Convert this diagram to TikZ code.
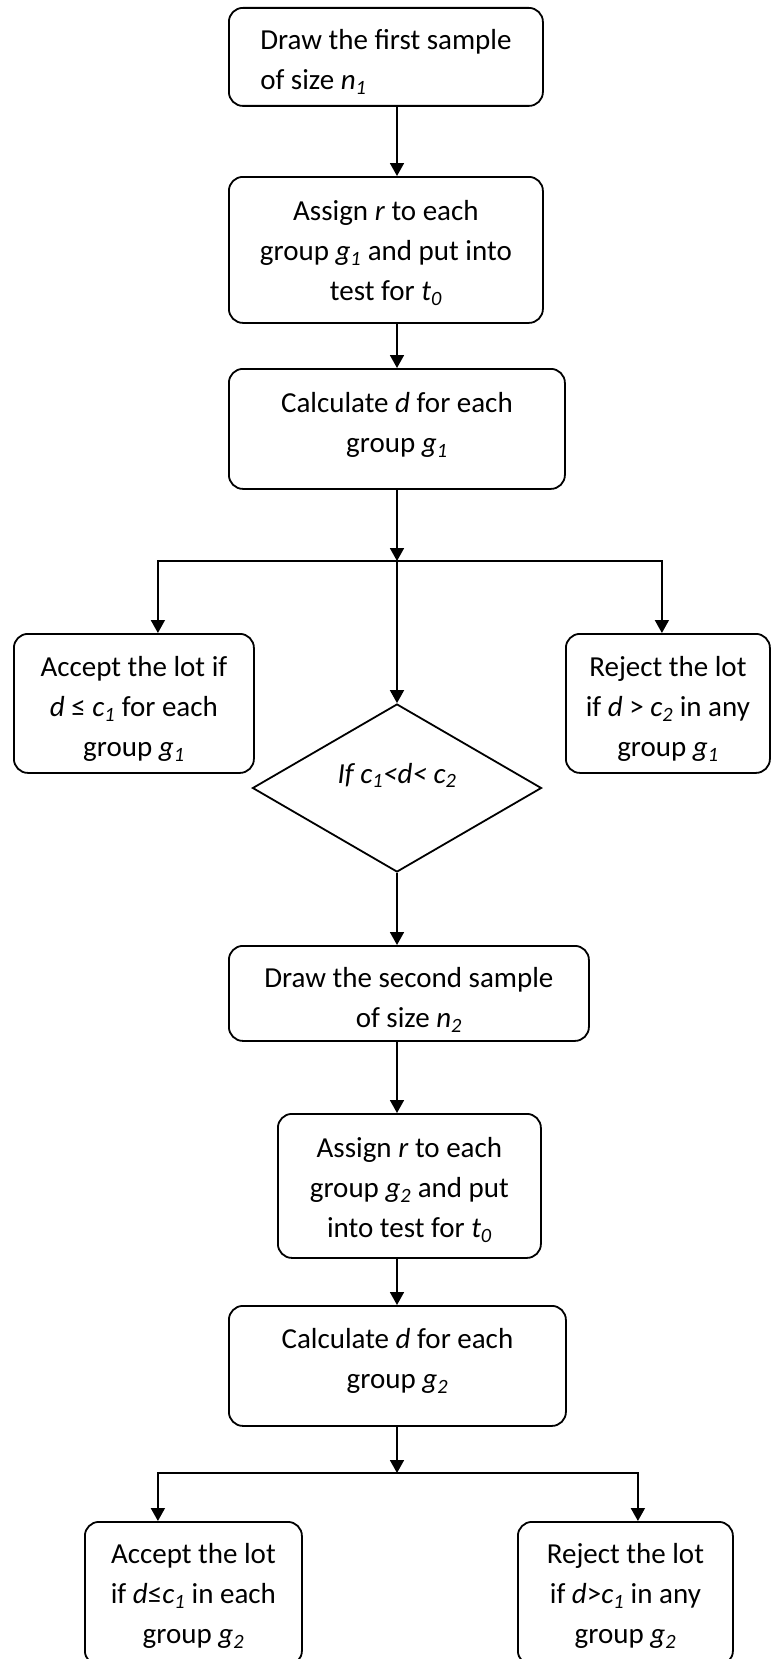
\documentclass[tikz,border=0pt]{standalone}
\usepackage{fontspec}
\setmainfont{Carlito}
\usetikzlibrary{arrows.meta,shapes.geometric}
\newcommand{\vsub}[2]{\textit{#1\textsubscript{#2}}}

\begin{document}
\begin{tikzpicture}[
    x=1pt, y=-1pt,
    font=\fontsize{29}{40}\selectfont,
    box/.style={draw, line width=1.8pt, rounded corners=14pt, align=center, anchor=north west, inner sep=0pt},
    arr/.style={line width=1.8pt, -{Triangle[length=13pt,width=14pt]}}
  ]
    \useasboundingbox (0,0) rectangle (771,1659);
    \node[box, align=left, minimum width=314pt, text height=82pt, text depth=16pt] (first) at (228,7) {Draw the first sample\\of size \vsub{n}{1}};
    \node[box, minimum width=314pt, text height=124pt, text depth=22pt] (assign1) at (228,176) {Assign \textit{r} to each\\group \vsub{g}{1} and put into\\test for \vsub{t}{0}};
    \node[box, minimum width=336pt, text height=84pt, text depth=36pt] (calc1) at (228,368) {Calculate \textit{d} for each\\group \vsub{g}{1}};
    \node[box, minimum width=240pt, text height=123pt, text depth=16pt] (acc1) at (13,633) {Accept the lot if\\\textit{d} ≤ \vsub{c}{1} for each\\group \vsub{g}{1}};
    \node[box, minimum width=204pt, text height=123pt, text depth=16pt] (rej1) at (565,633) {Reject the lot\\if \textit{d} > \vsub{c}{2} in any\\group \vsub{g}{1}};
    \node[draw, diamond, line width=1.8pt, minimum width=289pt, minimum height=168pt, inner sep=0pt, text height=10pt, text depth=20pt] (cond) at (397,788) {\textit{If c\textsubscript{1}<d< c\textsubscript{2}}};
    \node[box, minimum width=360pt, text height=82pt, text depth=13pt] (second) at (228,945) {Draw the second sample\\of size \vsub{n}{2}};
    \node[box, minimum width=263pt, text height=124pt, text depth=20pt] (assign2) at (277,1113) {Assign \textit{r} to each\\group \vsub{g}{2} and put\\into test for \vsub{t}{0}};
    \node[box, minimum width=337pt, text height=83pt, text depth=37pt] (calc2) at (228,1305) {Calculate \textit{d} for each\\group \vsub{g}{2}};
    \node[box, minimum width=217pt, text height=122pt, text depth=21pt] (acc2) at (84,1521) {Accept the lot\\if \textit{d}≤\vsub{c}{1} in each\\group \vsub{g}{2}};
    \node[box, minimum width=215pt, text height=122pt, text depth=21pt] (rej2) at (517,1521) {Reject the lot\\if \textit{d}>\vsub{c}{1} in any\\group \vsub{g}{2}};
    \coordinate (j1) at (397,561);
    \coordinate (j2) at (397,1473);
    \draw[arr] (first.south -| j1) -- (assign1.north -| j1);
    \draw[arr] (assign1.south -| j1) -- (calc1.north -| j1);
    \draw[arr] (calc1.south -| j1) -- (j1);
    \draw[arr] (j1) -| ([xshift=24pt]acc1.north);
    \draw[arr] (j1) -| ([xshift=-6pt]rej1.north);
    \draw[arr] (j1) -- (cond.north);
    \draw[arr] (cond.south) -- (second.north -| cond.south);
    \draw[arr] (second.south -| j2) -- (assign2.north -| j2);
    \draw[arr] (assign2.south -| j2) -- (calc2.north -| j2);
    \draw[arr] (calc2.south -| j2) -- (j2);
    \draw[arr] (j2) -| ([xshift=-35.5pt]acc2.north);
    \draw[arr] (j2) -| ([xshift=12.5pt]rej2.north);
\end{tikzpicture}
\end{document}
